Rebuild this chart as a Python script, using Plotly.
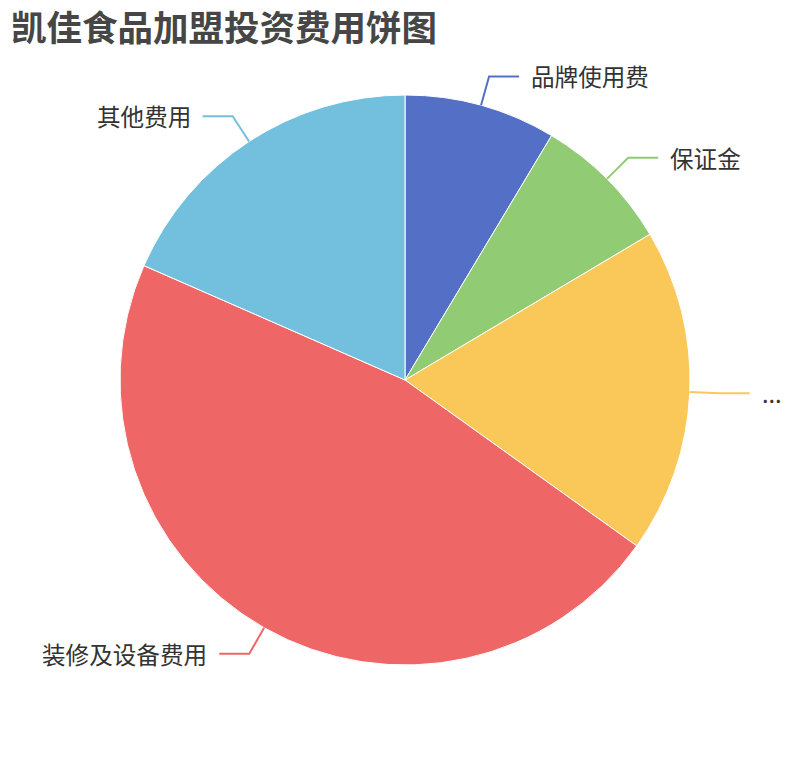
import math
import plotly.graph_objects as go

# 数据
labels = ["品牌使用费", "保证金", "...", "装修及设备费用", "其他费用"]
values = [3.5, 3.2, 7.5, 19, 7.5]
colors = ["#5470c6", "#91cc75", "#fac858", "#ee6666", "#73c0de"]

W, H = 802, 752                # 页面自带 8px 边距
cx, cy, R = 397, 372, 285      # 饼图中心和半径(像素)
len1, len2, gap = 30, 30, 10   # 引导线长度

fig = go.Figure(go.Pie(
    labels=labels,
    values=values,
    sort=False,
    direction="clockwise",
    rotation=0,
    textinfo="none",
    hoverinfo="label+value+percent",
    marker=dict(colors=colors, line=dict(color="white", width=1)),
    domain=dict(x=[(cx - R) / W, (cx + R) / W], y=[(H - cy - R) / H, (H - cy + R) / H]),
    showlegend=False,
))

def px2paper(x, y):
    return x / W, 1 - y / H

# 引导线和标签
total = sum(values)
acc = 0
shapes = []
annotations = []
for lab, val, col in zip(labels, values, colors):
    mid = (acc + val / 2) / total * 2 * math.pi
    acc += val
    s, c = math.sin(mid), math.cos(mid)
    x0, y0 = cx + R * s, cy - R * c
    x1, y1 = cx + (R + len1) * s, cy - (R + len1) * c
    side = 1 if s >= 0 else -1
    x2 = x1 + side * len2
    pts = [px2paper(x0, y0), px2paper(x1, y1), px2paper(x2, y1)]
    path = "M {} {} L {} {} L {} {}".format(*[v for p in pts for v in p])
    shapes.append(dict(type="path", path=path, xref="paper", yref="paper",
                       line=dict(color=col, width=2)))
    tx, ty = px2paper(x2 + side * gap, y1)
    annotations.append(dict(
        text=lab, x=tx, y=ty, xref="paper", yref="paper",
        xanchor="left" if side > 0 else "right", yanchor="middle",
        showarrow=False, font=dict(size=23.6, color="#333333"),
    ))

# 标题
tx, ty = px2paper(1, 17)
annotations.append(dict(
    text="<b>凯佳食品加盟投资费用饼图</b>", x=tx, y=ty,
    xref="paper", yref="paper", xanchor="left", yanchor="middle",
    showarrow=False, font=dict(size=35.5, color="#464646"),
))

fig.update_layout(
    width=W, height=H,
    margin=dict(l=0, r=0, t=0, b=0),
    paper_bgcolor="white",
    plot_bgcolor="white",
    font=dict(family="Noto Sans CJK SC, sans-serif"),
    shapes=shapes,
    annotations=annotations,
)

fig.write_html("out.html")
